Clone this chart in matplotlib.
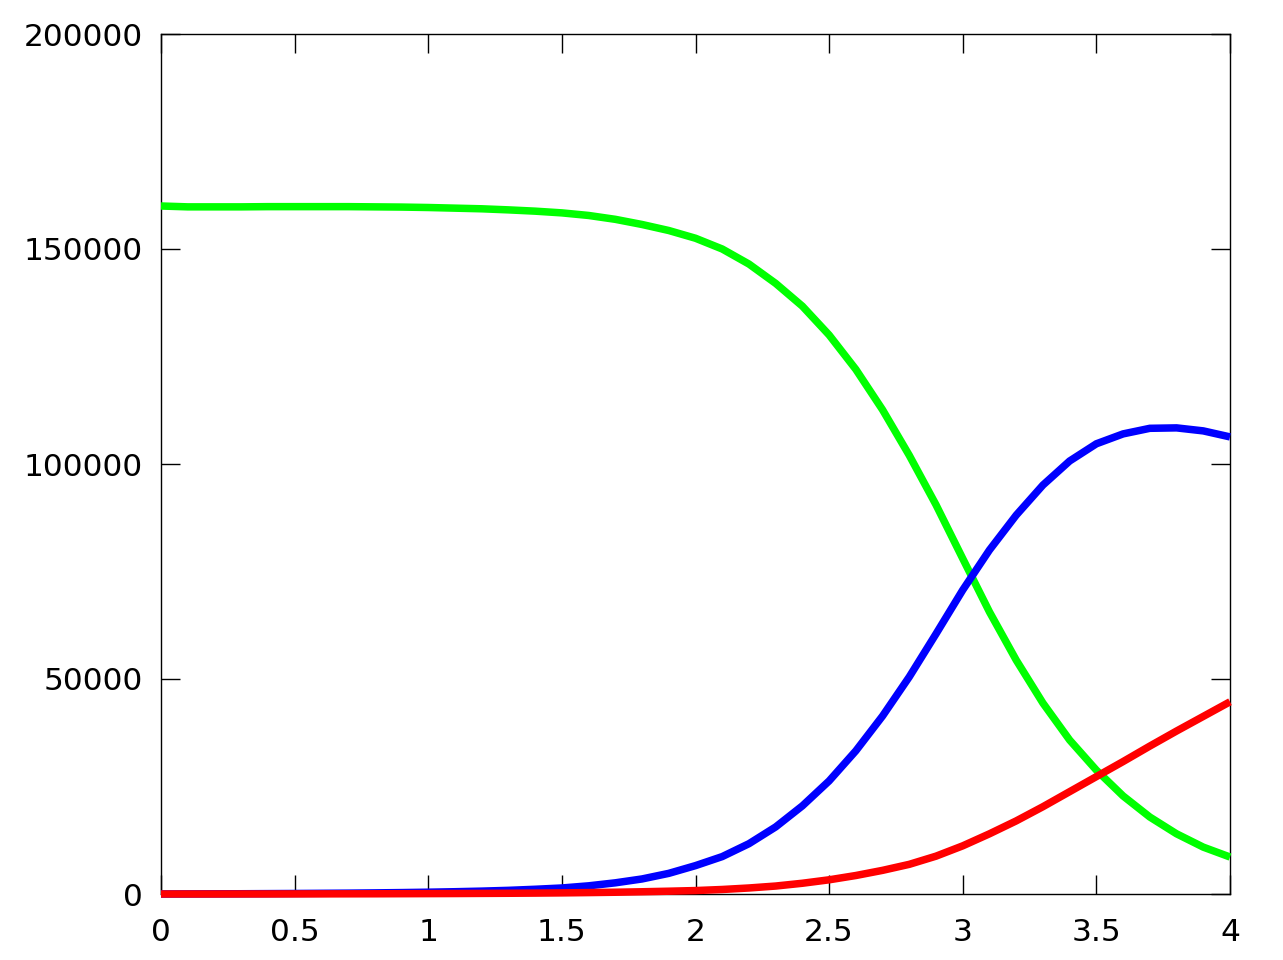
import matplotlib
matplotlib.use("Agg")
import matplotlib.pyplot as plt

t = [round(0.1 * i, 1) for i in range(41)]

green = [160000, 159800, 159800, 159800, 159850, 159850, 159850, 159850, 159800, 159750,
         159650, 159500, 159350, 159100, 158800, 158400, 157800, 156900, 155700, 154300,
         152500, 150000, 146500, 142000, 136700, 130000, 122000, 112600, 102000, 90500,
         78000, 65600, 54400, 44400, 35800, 28800, 22800, 17900, 14000, 10900, 8600]

blue = [0, 20, 40, 60, 90, 120, 160, 200, 260, 330,
        420, 530, 670, 850, 1100, 1400, 1900, 2600, 3500, 4800,
        6600, 8700, 11700, 15600, 20500, 26300, 33300, 41400, 50500, 60500,
        70700, 80000, 88100, 95100, 100700, 104700, 107000, 108300, 108400, 107700, 106300]

red = [0, 0, 0, 10, 10, 20, 30, 40, 50, 70,
       90, 110, 140, 170, 210, 260, 330, 410, 520, 650,
       800, 1050, 1400, 1850, 2500, 3300, 4300, 5500, 6900, 8800,
       11200, 14000, 17000, 20300, 23800, 27300, 30800, 34400, 37900, 41300, 44700]

xticks = [0, 0.5, 1, 1.5, 2, 2.5, 3, 3.5, 4]
xticklabels = ["0", "0.5", "1", "1.5", "2", "2.5", "3", "3.5", "4"]
yticks = [0, 50000, 100000, 150000, 200000]
yticklabels = ["0", "50000", "100000", "150000", "200000"]

fig = plt.figure(figsize=(12.83, 9.6), dpi=100)
ax = fig.add_axes([161/1283, 1-894/960, (1230-161)/1283, (894-34)/960])

lw = 5.4
for vals, col in ((green, "#00ff00"), (blue, "#0000ff"), (red, "#ff0000")):
    ax.plot(t, vals, color=col, lw=lw, solid_joinstyle="miter",
            solid_capstyle="butt", clip_on=False)

ax.set_xlim(0, 4)
ax.set_ylim(0, 200000)
ax.set_xticks(xticks)
ax.set_xticklabels(xticklabels)
ax.set_yticks(yticks)
ax.set_yticklabels(yticklabels)
ax.tick_params(direction="in", length=14, width=1, labelsize=22.5,
               top=True, right=True, colors="black")
ax.tick_params(axis="y", pad=13)
ax.tick_params(axis="x", pad=17)
for s in ax.spines.values():
    s.set_linewidth(1)
    s.set_zorder(0.5)

fig.savefig("out.png", dpi=100)
